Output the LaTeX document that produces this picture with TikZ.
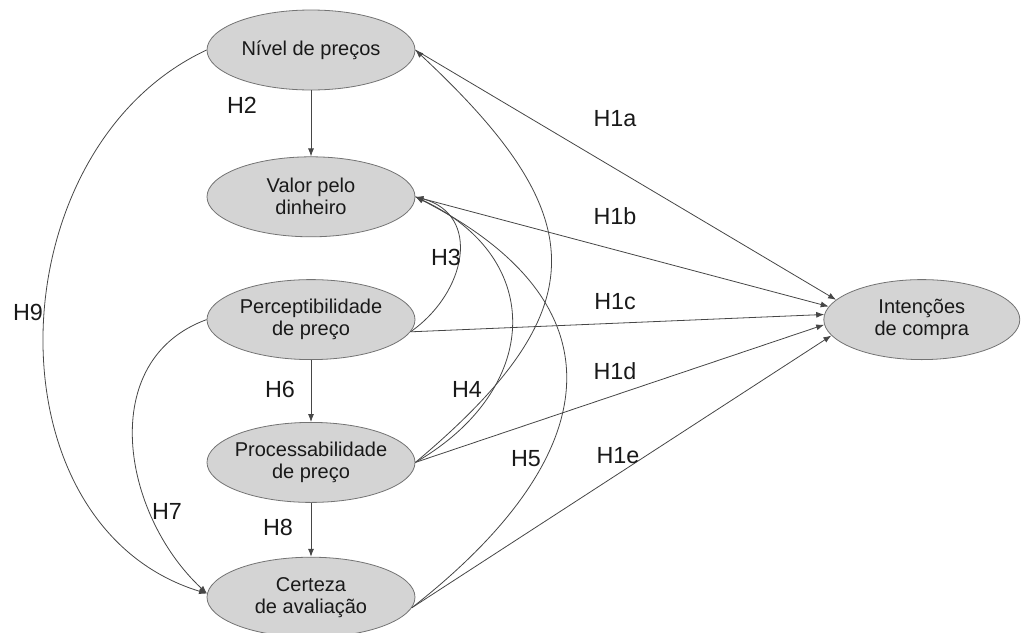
\documentclass[tikz,border=0pt]{standalone}
\usepackage{fontspec}
\setmainfont{Liberation Sans}
\usepackage{tikz}
\usetikzlibrary{shapes, arrows.meta, positioning}

\definecolor{constfill}{RGB}{212,212,212}
\definecolor{constline}{RGB}{115,115,115}
\definecolor{linkcol}{RGB}{70,70,70}
\definecolor{labelcol}{RGB}{25,25,25}

\begin{document}
\begin{tikzpicture}[
            x=0.75pt, y=-0.75pt,
            construct/.style={ellipse, draw=constline, fill=constfill, line width=0.6pt,
                minimum width=156pt, minimum height=60pt, inner xsep=-2pt, inner ysep=0pt,
                align=center, text=labelcol, font=\fontsize{15}{16.5}\selectfont},
            hyp/.style={text=labelcol, font=\fontsize{17.5}{20}\selectfont},
            link/.style={draw=linkcol, line width=0.6pt, -{Latex[length=6pt,width=4.5pt]}}
        ]
        \useasboundingbox (0,0) rectangle (1028,632);

        % Constructs
        \node[construct] (niv) at (311,50) {Nível de preços};
        \node[construct, below=49.5pt of niv] (val) {Valor pelo\\dinheiro};
        \node[construct, below=31.5pt of val] (per) {Perceptibilidade\\de preço};
        \node[construct, below=46.5pt of per] (pro) {Processabilidade\\de preço};
        \node[construct, below=40.5pt of pro] (cer) {Certeza\\de avaliação};
        \node[construct, minimum width=147pt, right=306pt of per] (int) {Intenções\\de compra};

        % Vertical chain
        \draw[link] (niv) -- (val);
        \draw[link] (per) -- (pro);
        \draw[link] (pro) -- (cer);

        % Paths to purchase intention
        \draw[link] (niv.east) -- (int.167);
        \draw[link] (val.east) -- (int.172);
        \draw[link] (per.-7) -- (int.177);
        \draw[link] (pro.east) -- (int.183);
        \draw[link] (cer.-6) -- (int.190);

        % Curved paths on the right
        \draw[link] (per.-7) to[out=35, in=-15, looseness=1.3] (val.east);
        \draw[link] (pro.east) to[out=30, in=-25, looseness=1.4] (val.east);
        \draw[link] (pro.east) to[out=40, in=-43, looseness=1.5] (niv.east);
        \draw[link] (cer.-6) to[out=38, in=-27, looseness=1.5] (val.east);

        % Curved paths on the left
        \draw[link] (niv.west) to[out=205, in=163, looseness=1.1] (cer.178);
        \draw[link] (per.west) to[out=200, in=137, looseness=1.1] (cer.178);

        % Labels
        \node[hyp] (h1a) at (615,119) {H1a};
        \node[hyp] (h1b) at (615,216) {H1b};
        \node[hyp] (h1c) at (615,302) {H1c};
        \node[hyp] (h1d) at (615,371) {H1d};
        \node[hyp] (h1e) at (618,456) {H1e};
        \node[hyp] (h2) at (242,105) {H2};
        \node[hyp] (h3) at (446,257) {H3};
        \node[hyp] (h4) at (467,389) {H4};
        \node[hyp] (h5) at (526,459) {H5};
        \node[hyp] (h6) at (280,389) {H6};
        \node[hyp] (h7) at (167,511) {H7};
        \node[hyp] (h8) at (278,527) {H8};
        \node[hyp] (h9) at (28,312) {H9};

    \end{tikzpicture}
\end{document}
